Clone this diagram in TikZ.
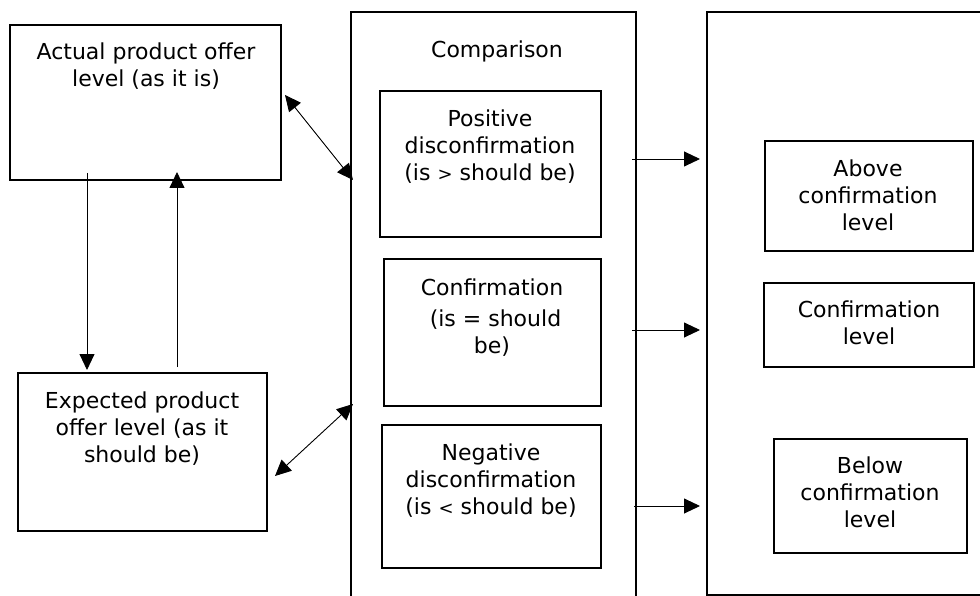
\documentclass[tikz,border=0pt]{standalone}
\usepackage{fontspec}
\setmainfont{DejaVu Sans}
\usetikzlibrary{arrows.meta}
\begin{document}
\begin{tikzpicture}[x=1pt,y=-1pt,
  box/.style={draw, line width=2.8pt, inner sep=0pt, rectangle},
  txt/.style={align=center, font=\fontsize{22}{27}\selectfont, inner sep=0pt},
  arr/.style={line width=0.9pt, -{Triangle[length=16pt,width=15pt]}},
  dbl/.style={line width=0.9pt, {Triangle[length=16pt,width=15pt]}-{Triangle[length=16pt,width=15pt]}}]
\useasboundingbox (0,0) rectangle (980,596);
\clip (0,0) rectangle (980,596);

% small relation signs, as in the source text
\newcommand{\relsign}[1]{{\fontsize{18}{20}\selectfont #1}}

% left column: actual and expected offer level
\node[box, minimum width=271pt, minimum height=155pt] (actual) at (145.5,102.5) {};
\node[box, minimum width=249pt, minimum height=158pt] (expected) at (142.5,452) {};
\node[txt] (actualtxt) at (146,66.5) {Actual product offer\\level (as it is)};
\node[txt] (expectedtxt) at (142,428.5) {Expected product\\offer level (as it\\should be)};

% middle column: comparison
\node[box, minimum width=285pt, minimum height=608pt] (comp) at (493.5,316) {};
\node[txt] (comptxt) at (497,51) {Comparison};
\node[box, minimum width=221pt, minimum height=146pt] (pos) at (490.5,164) {};
\node[box, minimum width=217pt, minimum height=147pt] (conf) at (492.5,332.5) {};
\node[box, minimum width=219pt, minimum height=143pt] (neg) at (491.5,496.5) {};
\node[txt] (postxt) at (490,146.5) {Positive\\disconfirmation\\(is \relsign{>} should be)};
\node[txt] (conftxt) at (492,318) {Confirmation\\[4pt] \ (is = should\\ be)};
\node[txt] (negtxt) at (491,480.5) {Negative\\disconfirmation\\(is \relsign{<} should be)};

% right column: resulting level
\node[box, minimum width=293pt, minimum height=583pt] (res) at (853.5,303.5) {};
\node[box, minimum width=208pt, minimum height=110pt] (above) at (869,196) {};
\node[box, minimum width=210pt, minimum height=84pt] (conflevel) at (869,325) {};
\node[box, minimum width=193pt, minimum height=114pt] (below) at (870.5,496) {};
\node[txt] (abovetxt) at (868,195) {Above\\confirmation\\level};
\node[txt] (conflevtxt) at (869,323) {Confirmation\\level};
\node[txt] (belowtxt) at (870,492) {Below\\confirmation\\level};

% connector ends
\coordinate (downA) at (87,173);
\coordinate (downE) at (87,370);
\coordinate (upE) at (177,367);
\coordinate (upA) at (177,172);
\coordinate (actR) at (285,95);
\coordinate (compTop) at (353,180);
\coordinate (expR) at (275,476);
\coordinate (compBot) at (353,404);
\coordinate (h1a) at (632,159);
\coordinate (h1b) at (700,159);
\coordinate (h2a) at (632,330);
\coordinate (h2b) at (700,330);
\coordinate (h3a) at (634,506);
\coordinate (h3b) at (700,506);

% connectors
\draw[arr] (downA) -- (downE);
\draw[arr] (upE) -- (upA);
\draw[dbl] (actR) -- (compTop);
\draw[dbl] (expR) -- (compBot);
\draw[arr] (h1a) -- (h1b);
\draw[arr] (h2a) -- (h2b);
\draw[arr] (h3a) -- (h3b);
\end{tikzpicture}
\end{document}
